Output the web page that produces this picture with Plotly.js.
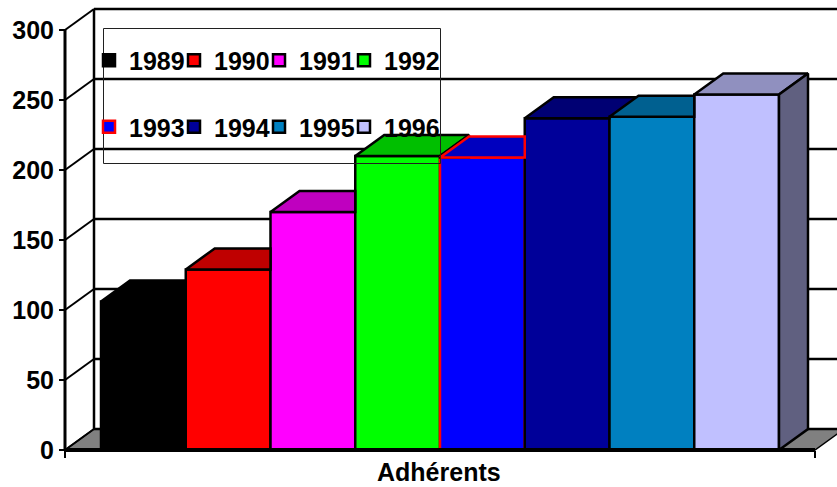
<!DOCTYPE html>
<html><head><meta charset="utf-8">
<script src="https://cdn.plot.ly/plotly-3.0.1.min.js"></script>
<style>html,body{margin:0;padding:0;background:#fff;} #chart{width:837px;height:487px;}</style>
</head><body><div id="chart"></div>
<script>
// ---- data ----
const years = ['1989','1990','1991','1992','1993','1994','1995','1996'];
const adherents = [106, 129, 170, 210, 209, 237, 238, 254];
const barColors = ['#000000','#FF0000','#FF00FF','#00FF00','#0000FF','#000099','#0080C0','#C0C0FF'];
const edgeColors = ['#000000','#000000','#000000','#000000','#FF0000','#000000','#000000','#000000'];
const yTickValues = [0, 50, 100, 150, 200, 250, 300];
const categoryLabel = 'Adhérents';

// ---- geometry (pixels -> data units) ----
const W = 837, H = 487;
const M = {l: 55, r: 0, t: 0, b: 20};
const plotW = W - M.l - M.r, plotH = H - M.t - M.b;
const pxPerBar = 84.75, pxPerUnit = 1.4;
const firstBarPx = 101, axisPx = 65, baselinePx = 450;
const x0 = -0.5 - (firstBarPx - M.l) / pxPerBar;
const x1 = x0 + plotW / pxPerBar;
const yTop = (baselinePx - M.t) / pxPerUnit;
const yBot = yTop - plotH / pxPerUnit;
const dX = 29 / pxPerBar, dY = 21 / pxPerUnit;
const n = years.length;
const floorPad = (firstBarPx - axisPx) / pxPerBar;
const floorL = -0.5 - floorPad, floorR = n - 0.5 + floorPad;
const yMax = yTickValues[yTickValues.length - 1];
const edgeW = 2.5, gridW = 2.5;

function shade(hex, f) {
  const r = Math.round(parseInt(hex.substr(1,2),16)*f);
  const g = Math.round(parseInt(hex.substr(3,2),16)*f);
  const b = Math.round(parseInt(hex.substr(5,2),16)*f);
  return 'rgb(' + r + ',' + g + ',' + b + ')';
}

const font = {family: 'Liberation Sans, Arial, sans-serif', size: 25, color: '#000', weight: 'bold'};

const traces = [];
// front faces
for (let i = 0; i < n; i++) {
  traces.push({
    type: 'bar', x: [i], y: [adherents[i]], width: 1, name: years[i],
    legend: i < 4 ? 'legend' : 'legend2',
    legendwidth: (i % 4 === 3) ? 90 : 40,
    marker: {color: barColors[i], line: {color: edgeColors[i], width: edgeW}},
    hoverinfo: 'skip'
  });
}
// top and side faces
for (let i = 0; i < n; i++) {
  const L = i - 0.5, R = i + 0.5, v = adherents[i];
  const h = i < n - 1 ? adherents[i + 1] : -Infinity;
  let tx, ty;
  if (h <= v) {
    tx = [L, R, R + dX, L + dX]; ty = [v, v, v + dY, v + dY];
  } else if (h >= v + dY) {
    tx = [L, R, R, L + dX]; ty = [v, v, v + dY, v + dY];
  } else {
    const xr = R + dX * (h - v) / dY;
    tx = [L, R, R, xr, R + dX, L + dX]; ty = [v, v, h, h, v + dY, v + dY];
  }
  tx.push(tx[0]); ty.push(ty[0]);
  traces.push({
    type: 'scatter', mode: 'lines', x: tx, y: ty, fill: 'toself',
    fillcolor: shade(barColors[i], 0.75), line: {color: edgeColors[i], width: edgeW},
    showlegend: false, hoverinfo: 'skip'
  });
  if (h < v) {
    const bf = Math.max(h, 0), bb = Math.max(h, dY);
    traces.push({
      type: 'scatter', mode: 'lines',
      x: [R, R, R + dX, R + dX, R], y: [v, bf, bb, v + dY, v], fill: 'toself',
      fillcolor: shade(barColors[i], 0.5), line: {color: edgeColors[i], width: edgeW},
      showlegend: false, hoverinfo: 'skip'
    });
  }
}

const shapes = [];
// floor
shapes.push({type: 'path', layer: 'below', xref: 'x', yref: 'y',
  path: 'M' + floorL + ',0 L' + floorR + ',0 L' + (floorR + dX) + ',' + dY + ' L' + (floorL + dX) + ',' + dY + ' Z',
  fillcolor: '#808080', line: {color: '#000', width: 1.5}});
// back wall gridlines and side wall diagonals
yTickValues.forEach(v => {
  shapes.push({type: 'line', layer: 'below', xref: 'x', yref: 'y',
    x0: floorL + dX, y0: v + dY, x1: x1 + 1, y1: v + dY, line: {color: '#000', width: gridW}});
  shapes.push({type: 'line', layer: 'below', xref: 'x', yref: 'y',
    x0: floorL, y0: v, x1: floorL + dX, y1: v + dY, line: {color: '#000', width: 2}});
});
// back wall left edge
shapes.push({type: 'line', layer: 'below', xref: 'x', yref: 'y',
  x0: floorL + dX, y0: dY, x1: floorL + dX, y1: yMax + dY, line: {color: '#000', width: gridW}});
// front value axis line
shapes.push({type: 'line', layer: 'above', xref: 'x', yref: 'y',
  x0: floorL, y0: 0, x1: floorL, y1: yMax, line: {color: '#000', width: 3}});
// front floor edge
shapes.push({type: 'line', layer: 'above', xref: 'x', yref: 'y',
  x0: floorL, y0: 0, x1: floorR, y1: 0, line: {color: '#000', width: 4}});
// legend frame
const px2paperX = p => (p - M.l) / plotW;
const px2paperY = p => (H - M.b - p) / plotH;
shapes.push({type: 'rect', xref: 'paper', yref: 'paper', layer: 'above',
  x0: px2paperX(103.5), x1: px2paperX(440.5), y0: px2paperY(163.5), y1: px2paperY(28.5),
  line: {color: '#202020', width: 1}, fillcolor: 'rgba(0,0,0,0)'});

const legendBase = {orientation: 'h', xanchor: 'left', yanchor: 'middle',
  x: px2paperX(89), entrywidthmode: 'pixels',
  font: font, bgcolor: 'rgba(0,0,0,0)', borderwidth: 0, traceorder: 'normal'};

const layout = {
  width: W, height: H, margin: M, paper_bgcolor: '#fff', plot_bgcolor: 'rgba(0,0,0,0)',
  showlegend: true, barmode: 'overlay', bargap: 0,
  xaxis: {range: [x0, x1], anchor: 'free', position: px2paperY(baselinePx),
    tickvals: [floorL, floorR], ticktext: ['', ''], ticks: 'outside', ticklen: 7, tickwidth: 2,
    tickcolor: '#000', showline: false, showgrid: false, zeroline: false, fixedrange: true},
  yaxis: {range: [yBot, yTop], anchor: 'free', position: px2paperX(axisPx),
    tickvals: yTickValues, ticks: 'outside', ticklen: 6, tickwidth: 2, tickcolor: '#000',
    ticklabelstandoff: 0,
    tickfont: font, showline: false, showgrid: false, zeroline: false, fixedrange: true},
  legend: Object.assign({}, legendBase, {y: px2paperY(60.5)}),
  legend2: Object.assign({}, legendBase, {y: px2paperY(127)}),
  shapes: shapes,
  annotations: [{text: categoryLabel, xref: 'paper', yref: 'paper',
    x: px2paperX(439), y: px2paperY(471.5), xanchor: 'center', yanchor: 'middle',
    showarrow: false, font: font}],
  hovermode: false
};

Plotly.newPlot('chart', traces, layout, {staticPlot: true, displayModeBar: false});
</script></body></html>
